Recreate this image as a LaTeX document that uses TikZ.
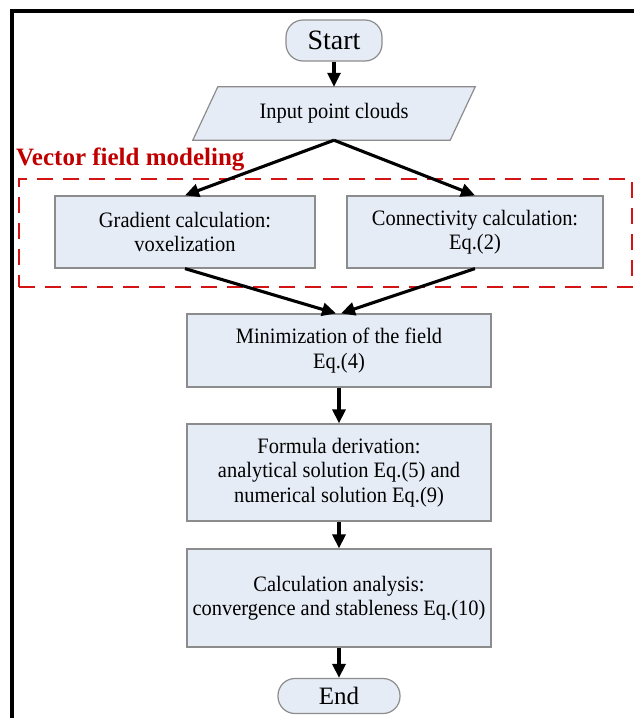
\documentclass[tikz,border=0pt]{standalone}
\usepackage{fontspec}
\setmainfont{Liberation Serif}
\newfontfamily\boxfont{Liberation Serif}[FakeStretch=0.93]
\usetikzlibrary{arrows.meta}
\definecolor{boxfill}{RGB}{230,236,246}
\definecolor{boxline}{RGB}{140,140,140}
\definecolor{grpred}{RGB}{210,20,20}
\definecolor{lblred}{RGB}{192,0,0}
\tikzset{
  procbox/.style={draw=boxline, fill=boxfill, line width=1.2pt, inner sep=0pt,
    align=center, font=\boxfont\fontsize{22}{24.5}\selectfont},
  termbox/.style={procbox, rounded corners=17pt},
  flowarrow/.style={draw=black, line width=3.1pt, -{Triangle[length=14pt,width=13pt]}},
  groupbox/.style={draw=grpred, line width=2.6pt, dash pattern=on 16pt off 10pt, inner sep=0pt},
}
\begin{document}
\begin{tikzpicture}[x=1pt,y=-1pt]
\useasboundingbox (0,0) rectangle (633,718);
% frame
\draw[line width=3.2pt] (12,720) -- (12,11) -- (640,11);
% group
\node[groupbox, minimum width=613pt, minimum height=108pt] (grp) at (325.5,233) {};
\node[anchor=base west, inner sep=0pt, text=lblred, font=\fontsize{25}{28}\selectfont\bfseries] (lbl) at (16,165) {Vector field modeling};
% nodes
\node[termbox, minimum width=96pt, minimum height=41pt, font=\fontsize{28}{30}\selectfont] (start) at (334,40.5) {Start};
\node[inner sep=0pt, minimum width=282pt, minimum height=53pt] (input) at (334,113.5) {};
\draw[draw=boxline, fill=boxfill, line width=1.2pt] ([xshift=25pt]input.north west) -- (input.north east) -- ([xshift=-25pt]input.south east) -- (input.south west) -- cycle;
\node[font=\boxfont\fontsize{22}{24.5}\selectfont] (inputtext) at (input.center) {Input point clouds};
\node[procbox, minimum width=260pt, minimum height=72pt] (grad) at (185,232) {Gradient calculation:\\voxelization};
\node[procbox, minimum width=256pt, minimum height=72pt] (conn) at (475,232) {Connectivity calculation:\\Eq.(2)};
\node[procbox, minimum width=304pt, minimum height=73pt] (mini) at (339,350.5) {Minimization of the field\\Eq.(4)};
\node[procbox, minimum width=304pt, minimum height=97pt] (form) at (339,472.5) {Formula derivation:\\analytical solution Eq.(5) and\\numerical solution Eq.(9)};
\node[procbox, minimum width=304pt, minimum height=98pt] (calc) at (339,598) {Calculation analysis:\\convergence and stableness Eq.(10)};
\node[termbox, minimum width=122pt, minimum height=35pt, font=\fontsize{25}{28}\selectfont] (endn) at (339,696) {End};
% arrows
\draw[flowarrow] (start.south) -- (input.north);
\draw[flowarrow] (input.south) -- (grad.north);
\draw[flowarrow] (input.south) -- (conn.north);
\draw[flowarrow] (grad.south) -- ([xshift=-3pt]mini.north);
\draw[flowarrow] (conn.south) -- ([xshift=2pt]mini.north);
\draw[flowarrow] (mini.south) -- (form.north);
\draw[flowarrow] (form.south) -- (calc.north);
\draw[flowarrow] (calc.south) -- (endn.north);
\end{tikzpicture}
\end{document}
